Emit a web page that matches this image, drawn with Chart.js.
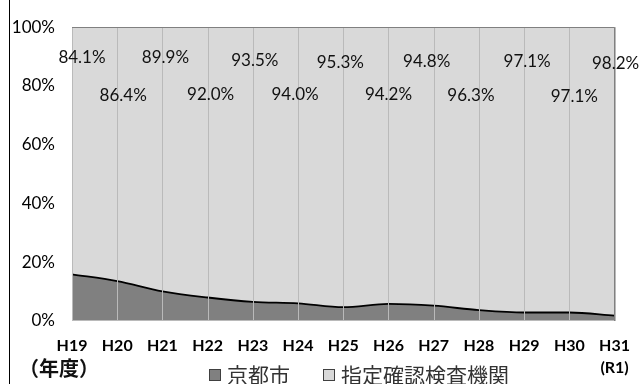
<!DOCTYPE html>
<html>
<head>
<meta charset="utf-8">
<script src="https://cdn.jsdelivr.net/npm/chart.js@4.4.1/dist/chart.umd.min.js"></script>
<style>
    html, body { margin: 0; padding: 0; background: #fff; }
    #wrap { width: 644px; height: 384px; position: relative; }
</style>
</head>
<body>
<div id="wrap"><canvas id="share_chart" width="644" height="384"></canvas></div>
<script>
    // 年度
    const years = ['H19', 'H20', 'H21', 'H22', 'H23', 'H24', 'H25', 'H26', 'H27', 'H28', 'H29', 'H30', ['H31', '(R1)']];
    // 京都市 / 指定確認検査機関 の割合 (%)
    const kyotoShare = [15.9, 13.6, 10.1, 8.0, 6.5, 6.0, 4.7, 5.8, 5.2, 3.7, 2.9, 2.9, 1.8];
    const agencyShare = [84.1, 86.4, 89.9, 92.0, 93.5, 94.0, 95.3, 94.2, 94.8, 96.3, 97.1, 97.1, 98.2];
    const seriesNames = ['京都市', '指定確認検査機関'];
    const yTicks = [0, 20, 40, 60, 80, 100];

    const NUM_FONT = 'Lato, "Noto Sans", sans-serif';
    const JP_FONT = '"Noto Sans CJK JP", sans-serif';

    // hand placed label nudges (px), like the original sheet
    const labelDx = [10, 6, 3, 3, 2, -3, -3, 0, -7, -8, 3, 5, 1];
    const labelTop = [30, 68, 30, 67, 33, 67, 35, 67, 34, 68, 34, 69, 36];

    const decorPlugin = {
        id: 'decor',
        afterDraw(chart) {
            const ctx = chart.ctx;
            const area = chart.chartArea;
            const xs = chart.scales.x;
            ctx.save();

            // vertical grid over the areas + bottom axis line
            ctx.fillStyle = '#bababa';
            for (let i = 0; i < years.length; i++) {
                const x = Math.round(xs.getPixelForValue(i));
                ctx.fillRect(x, area.top, 1, area.bottom - area.top);
            }
            ctx.fillRect(area.left, Math.round(area.bottom) - 1, area.right - area.left, 1);

            // plot frame (top / right)
            ctx.fillStyle = '#808080';
            ctx.fillRect(area.left, Math.round(area.top), area.right - area.left, 1);
            ctx.fillRect(Math.round(area.right) - 1, area.top, 1, area.bottom - area.top);

            // left rule of the picture
            ctx.fillStyle = '#000';
            ctx.fillRect(9, 0, 1, chart.height);

            // data labels for 指定確認検査機関
            ctx.font = '17px ' + NUM_FONT;
            ctx.fillStyle = '#111';
            ctx.textAlign = 'center';
            ctx.textBaseline = 'middle';
            agencyShare.forEach(function(v, i) {
                const x = xs.getPixelForValue(i) + labelDx[i];
                const y = area.top + labelTop[i];
                ctx.fillText(v.toFixed(1) + '%', x, y);
            });

            // （年度）
            ctx.textAlign = 'left';
            ctx.font = 'bold 20px ' + JP_FONT;
            ctx.fillStyle = '#111';
            ctx.fillText('（年度）', 19, 368);

            // legend
            const items = [
                { x: 209, fill: '#808080' },
                { x: 323, fill: '#d9d9d9' }
            ];
            ctx.font = '21px ' + JP_FONT;
            items.forEach(function(it, i) {
                ctx.fillStyle = it.fill;
                ctx.fillRect(it.x, 369, 12, 12);
                ctx.strokeStyle = '#404040';
                ctx.lineWidth = 1;
                ctx.strokeRect(it.x + 0.5, 369.5, 11, 11);
                ctx.fillStyle = '#333';
                ctx.fillText(seriesNames[i], it.x + 18, 375);
            });
            ctx.restore();
        }
    };

    var ctx = document.getElementById('share_chart').getContext('2d');

    var data = {
        labels: years,
        datasets: [
            {
                label: seriesNames[0],
                data: kyotoShare,
                backgroundColor: '#808080',
                borderColor: '#000',
                borderWidth: 1.8,
                fill: 'origin',
                pointRadius: 0,
                cubicInterpolationMode: 'monotone'
            },
            {
                label: seriesNames[1],
                data: agencyShare,
                backgroundColor: '#d9d9d9',
                borderColor: 'rgba(0,0,0,0)',
                borderWidth: 0,
                fill: '-1',
                pointRadius: 0,
                cubicInterpolationMode: 'monotone'
            }
        ]
    };

    var options = {
        responsive: false,
        animation: false,
        devicePixelRatio: 1,
        layout: { padding: { top: 27, right: 27, left: 0, bottom: 0 } },
        plugins: {
            legend: { display: false },
            tooltip: { enabled: false }
        },
        scales: {
            x: {
                offset: false,
                grid: { display: false, drawTicks: false },
                border: { display: false },
                ticks: {
                    color: '#000',
                    padding: 14,
                    maxRotation: 0,
                    autoSkip: false,
                    font: { family: NUM_FONT, size: 16, weight: 'bold', lineHeight: 1.375 }
                },
                afterFit: function(scale) { scale.height = 63; }
            },
            y: {
                stacked: true,
                min: 0,
                max: 100,
                grid: { display: false, drawTicks: false },
                border: { display: false },
                afterBuildTicks: function(scale) {
                    scale.ticks = yTicks.map(v => ({ value: v }));
                },
                ticks: {
                    color: '#000',
                    padding: 17,
                    font: { family: NUM_FONT, size: 17 },
                    callback: function(v) { return v + '%'; }
                },
                afterFit: function(scale) { scale.width = 72; }
            }
        }
    };

    var shareChart = new Chart(ctx, {
        type: 'line',
        data: data,
        options: options,
        plugins: [decorPlugin]
    });
</script>
</body>
</html>
